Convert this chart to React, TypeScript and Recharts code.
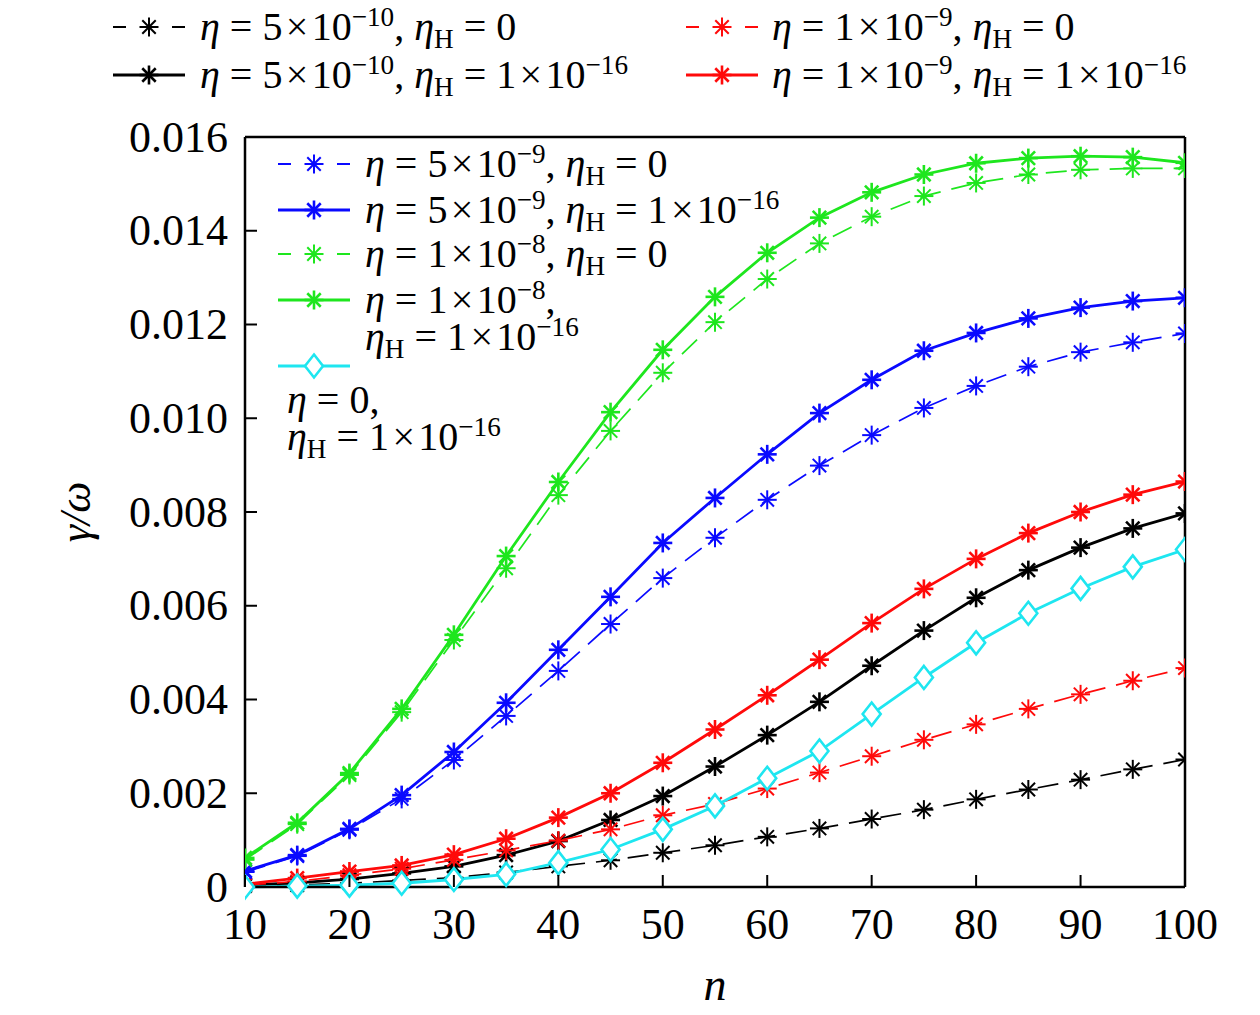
import React from "react";
import { Legend, Line, LineChart, ReferenceLine, XAxis, YAxis } from "recharts";

const W = 1260;
const H = 1015;
const FONT = '"Liberation Serif", "DejaVu Serif", serif';

// n values (x axis)
const nValues = [10, 15, 20, 25, 30, 35, 40, 45, 50, 55, 60, 65, 70, 75, 80, 85, 90, 95, 100];

// gamma/omega
const blackDashed = [0.00002, 0.00004, 0.00008, 0.00014, 0.0002, 0.00031, 0.00044, 0.00057, 0.00073, 0.00089, 0.00107, 0.00125, 0.00145, 0.00165, 0.00187, 0.00208, 0.00229, 0.00251, 0.00272];
const blackSolid = [0.00004, 0.00009, 0.00017, 0.00029, 0.00044, 0.00068, 0.00098, 0.00143, 0.00194, 0.00257, 0.00324, 0.00395, 0.00472, 0.00547, 0.00617, 0.00676, 0.00724, 0.00765, 0.00797];
const redDashed = [0.00004, 0.00012, 0.00025, 0.00039, 0.00058, 0.00078, 0.00099, 0.00123, 0.00153, 0.00177, 0.0021, 0.00244, 0.00279, 0.00314, 0.00347, 0.0038, 0.00411, 0.0044, 0.00467];
const redSolid = [0.00006, 0.00019, 0.00033, 0.00046, 0.00069, 0.00103, 0.00148, 0.002, 0.00265, 0.00336, 0.00409, 0.00485, 0.00563, 0.00636, 0.007, 0.00755, 0.008, 0.00837, 0.00865];
const blueDashed = [0.00032, 0.00066, 0.00122, 0.00188, 0.00271, 0.00365, 0.00461, 0.00561, 0.00659, 0.00745, 0.00826, 0.00899, 0.00964, 0.01022, 0.01069, 0.0111, 0.01141, 0.01162, 0.01181];
const blueSolid = [0.00034, 0.00068, 0.00124, 0.00196, 0.00288, 0.00393, 0.00506, 0.00619, 0.00734, 0.0083, 0.00923, 0.01011, 0.01082, 0.01144, 0.01182, 0.01213, 0.01236, 0.0125, 0.01257];
const greenDashed = [0.00058, 0.00134, 0.00239, 0.00373, 0.00527, 0.0068, 0.00836, 0.00973, 0.01097, 0.01205, 0.01297, 0.01373, 0.0143, 0.01474, 0.01502, 0.0152, 0.0153, 0.01533, 0.01533];
const greenSolid = [0.00062, 0.00137, 0.00243, 0.0038, 0.00538, 0.00706, 0.00864, 0.01013, 0.01146, 0.01259, 0.01353, 0.01428, 0.01482, 0.0152, 0.01544, 0.01555, 0.01559, 0.01557, 0.01545];
const cyanSolid = [0, 0.00002, 0.00004, 0.00008, 0.00016, 0.00027, 0.00052, 0.0008, 0.00123, 0.00173, 0.00232, 0.0029, 0.00369, 0.00447, 0.00521, 0.00584, 0.00637, 0.00683, 0.0072];

const xTicks = [10, 20, 30, 40, 50, 60, 70, 80, 90, 100];
const yTicks = [0, 0.002, 0.004, 0.006, 0.008, 0.01, 0.012, 0.014, 0.016];

// labels: ^{..} superscript, _X subscript
const lblBlackDashed = "η = 5\u200a×\u200a10^{−10}, η_H = 0";
const lblBlackSolid = "η = 5\u200a×\u200a10^{−10}, η_H = 1\u200a×\u200a10^{−16}";
const lblRedDashed = "η = 1\u200a×\u200a10^{−9}, η_H = 0";
const lblRedSolid = "η = 1\u200a×\u200a10^{−9}, η_H = 1\u200a×\u200a10^{−16}";
const lblBlueDashed = "η = 5\u200a×\u200a10^{−9}, η_H = 0";
const lblBlueSolid = "η = 5\u200a×\u200a10^{−9}, η_H = 1\u200a×\u200a10^{−16}";
const lblGreenDashed = "η = 1\u200a×\u200a10^{−8}, η_H = 0";
const lblGreenSolid = ["η = 1\u200a×\u200a10^{−8},", "η_H = 1\u200a×\u200a10^{−16}"];
const lblCyan = ["η = 0,", "η_H = 1\u200a×\u200a10^{−16}"];

const BLACK = "#000000";
const RED = "#ff0a0a";
const BLUE = "#0a0aff";
const GREEN = "#1ee61e";
const CYAN = "#1ee6f0";

type Series = { key: string; values: number[]; color: string; dashed: boolean; marker: "star" | "diamond" };

const series: Series[] = [
  { key: "bd", values: blackDashed, color: BLACK, dashed: true, marker: "star" },
  { key: "bs", values: blackSolid, color: BLACK, dashed: false, marker: "star" },
  { key: "rd", values: redDashed, color: RED, dashed: true, marker: "star" },
  { key: "rs", values: redSolid, color: RED, dashed: false, marker: "star" },
  { key: "ud", values: blueDashed, color: BLUE, dashed: true, marker: "star" },
  { key: "us", values: blueSolid, color: BLUE, dashed: false, marker: "star" },
  { key: "gd", values: greenDashed, color: GREEN, dashed: true, marker: "star" },
  { key: "gs", values: greenSolid, color: GREEN, dashed: false, marker: "star" },
  { key: "cs", values: cyanSolid, color: CYAN, dashed: false, marker: "diamond" },
];

const data = nValues.map((n, i) => {
  const row: Record<string, number> = { n };
  series.forEach((s) => {
    row[s.key] = s.values[i];
  });
  return row;
});

const byKey = (k: string) => series.find((s) => s.key === k)!;

function Marker({ cx, cy, s }: { cx: number; cy: number; s: Series }) {
  const sw = s.dashed ? 2 : 2.6;
  if (s.marker === "diamond") {
    return (
      <polygon
        points={`${cx},${cy - 11.5} ${cx + 9},${cy} ${cx},${cy + 11.5} ${cx - 9},${cy}`}
        fill="#fff"
        stroke={s.color}
        strokeWidth={sw}
      />
    );
  }
  const r = 9.5;
  const d = r * 0.7071;
  return (
    <g stroke={s.color} strokeWidth={sw}>
      <line x1={cx - r} y1={cy} x2={cx + r} y2={cy} />
      <line x1={cx} y1={cy - r} x2={cx} y2={cy + r} />
      <line x1={cx - d} y1={cy - d} x2={cx + d} y2={cy + d} />
      <line x1={cx - d} y1={cy + d} x2={cx + d} y2={cy - d} />
    </g>
  );
}

function parse(s: string) {
  const out: { kind: "plain" | "sup" | "sub"; text: string }[] = [];
  let buf = "";
  let i = 0;
  const flush = () => {
    if (buf) out.push({ kind: "plain", text: buf });
    buf = "";
  };
  while (i < s.length) {
    const c = s[i];
    if (c === "^" && s[i + 1] === "{") {
      flush();
      const end = s.indexOf("}", i);
      out.push({ kind: "sup", text: s.slice(i + 2, end) });
      i = end + 1;
    } else if (c === "_") {
      flush();
      out.push({ kind: "sub", text: s[i + 1] });
      i += 2;
    } else {
      buf += c;
      i += 1;
    }
  }
  flush();
  return out;
}

function MathText({ x, y, text, size }: { x: number; y: number; text: string; size: number }) {
  const segs = parse(text);
  let shift = 0;
  const spans: React.ReactNode[] = [];
  segs.forEach((sg, i) => {
    const target = sg.kind === "sup" ? -0.35 * size : sg.kind === "sub" ? 0.2 * size : 0;
    const dy = target - shift;
    shift = target;
    const fs = sg.kind === "plain" ? size : size * 0.68;
    const parts = sg.text.split(/(η)/).filter(Boolean);
    parts.forEach((p, j) => {
      spans.push(
        <tspan key={`${i}-${j}`} dy={j === 0 ? dy : 0} fontSize={fs} fontStyle={p === "η" ? "italic" : "normal"}>
          {p}
        </tspan>,
      );
    });
  });
  return (
    <text x={x} y={y} fontFamily={FONT} fill="#000" style={{ whiteSpace: "pre" }}>
      {spans}
    </text>
  );
}

function Sample({ x, y, s }: { x: number; y: number; s: Series }) {
  const len = 72;
  const sw = s.dashed ? 2 : 2.8;
  return (
    <g>
      {s.dashed ? (
        <>
          <line x1={x} y1={y} x2={x + 13} y2={y} stroke={s.color} strokeWidth={sw} />
          <line x1={x + len - 13} y1={y} x2={x + len} y2={y} stroke={s.color} strokeWidth={sw} />
        </>
      ) : (
        <line x1={x} y1={y} x2={x + len} y2={y} stroke={s.color} strokeWidth={sw} />
      )}
      <Marker cx={x + len / 2} cy={y} s={s} />
    </g>
  );
}

const LFS = 40;

function LegendContent() {
  const topRows = [
    { s: byKey("bd"), label: lblBlackDashed, sx: 113, tx: 200, y: 27 },
    { s: byKey("rd"), label: lblRedDashed, sx: 686, tx: 772, y: 27 },
    { s: byKey("bs"), label: lblBlackSolid, sx: 113, tx: 200, y: 75 },
    { s: byKey("rs"), label: lblRedSolid, sx: 686, tx: 772, y: 75 },
  ];
  const innerRows = [
    { s: byKey("ud"), label: lblBlueDashed, y: 164 },
    { s: byKey("us"), label: lblBlueSolid, y: 210 },
    { s: byKey("gd"), label: lblGreenDashed, y: 254 },
  ];
  const base = 13;
  return (
    <svg width={W} height={H} style={{ position: "absolute", left: 0, top: 0 }}>
      {topRows.map((r, i) => (
        <g key={`t${i}`}>
          <Sample x={r.sx} y={r.y} s={r.s} />
          <MathText x={r.tx} y={r.y + base} text={r.label} size={LFS} />
        </g>
      ))}
      {innerRows.map((r, i) => (
        <g key={`i${i}`}>
          <Sample x={278} y={r.y} s={r.s} />
          <MathText x={365} y={r.y + base} text={r.label} size={LFS} />
        </g>
      ))}
      <Sample x={278} y={300} s={byKey("gs")} />
      <MathText x={365} y={300 + base} text={lblGreenSolid[0]} size={LFS} />
      <MathText x={365} y={337 + base} text={lblGreenSolid[1]} size={LFS} />
      <Sample x={278} y={366} s={byKey("cs")} />
      <MathText x={287} y={400 + base} text={lblCyan[0]} size={LFS} />
      <MathText x={287} y={437 + base} text={lblCyan[1]} size={LFS} />
    </svg>
  );
}

const TFS = 44;
const Y_GAP = 17;
const X_GAP = 52;
const TICK_LEN = 12;

function YTick(props: any) {
  const { x, y, payload } = props;
  const v = payload.value as number;
  const axisX = x + Y_GAP;
  return (
    <g>
      <text x={x} y={y} textAnchor="end" dominantBaseline="central" fontFamily={FONT} fontSize={TFS} fill="#000">
        {v === 0 ? "0" : v.toFixed(3)}
      </text>
      {v > 0 && <line x1={axisX} x2={axisX + TICK_LEN} y1={y} y2={y} stroke="#000" strokeWidth={2} />}
    </g>
  );
}

function XTick(props: any) {
  const { x, y, payload } = props;
  const axisY = y - X_GAP;
  return (
    <g>
      <text x={x} y={y} textAnchor="middle" fontFamily={FONT} fontSize={TFS} fill="#000">
        {String(payload.value)}
      </text>
      <line x1={x} x2={x} y1={axisY} y2={axisY - TICK_LEN} stroke="#000" strokeWidth={2} />
    </g>
  );
}

export default function App() {
  return (
    <div style={{ position: "absolute", left: 0, top: 0, width: W, height: H, background: "#fff" }}>
      <LineChart width={W} height={H} data={data} margin={{ top: 137, right: 75, left: 60, bottom: 10 }}>
        <XAxis
          dataKey="n"
          type="number"
          domain={[10, 100]}
          ticks={xTicks}
          allowDataOverflow
          height={118}
          tickSize={0}
          tickMargin={X_GAP}
          tickLine={false}
          tick={<XTick />}
          axisLine={{ stroke: "#000", strokeWidth: 2.5 }}
          label={{
            content: (p: any) => {
              const vb = p.viewBox;
              return (
                <text x={vb.x + vb.width / 2} y={1000} textAnchor="middle" fontFamily={FONT} fontStyle="italic" fontSize={46} fill="#000">
                  n
                </text>
              );
            },
          }}
        />
        <YAxis
          type="number"
          domain={[0, 0.016]}
          ticks={yTicks}
          width={185}
          tickSize={0}
          tickMargin={Y_GAP}
          tickLine={false}
          tick={<YTick />}
          axisLine={{ stroke: "#000", strokeWidth: 2.5 }}
          label={{
            content: (p: any) => {
              const vb = p.viewBox;
              const cx = vb.x + 15;
              const cy = vb.y + vb.height / 2;
              return (
                <text x={cx} y={cy} textAnchor="middle" dominantBaseline="central" transform={`rotate(-90 ${cx} ${cy})`} fontFamily={FONT} fontStyle="italic" fontSize={44} fill="#000">
                  γ/ω
                </text>
              );
            },
          }}
        />
        <ReferenceLine x={100} stroke="#000" strokeWidth={2.5} />
        <ReferenceLine y={0.016} stroke="#000" strokeWidth={2.5} />
        {series.map((s) => (
          <Line
            key={s.key}
            dataKey={s.key}
            type="linear"
            stroke={s.color}
            strokeWidth={s.dashed ? 1.7 : 2.8}
            strokeDasharray={s.dashed ? "21 11" : undefined}
            isAnimationActive={false}
            activeDot={false}
            dot={(p: any) => (
              <g key={`${s.key}-${p.index}`}>
                {p.cx != null && p.cy != null ? <Marker cx={p.cx} cy={p.cy} s={s} /> : null}
              </g>
            )}
          />
        ))}
        <Legend
          layout="vertical"
          align="center"
          verticalAlign="middle"
          content={() => <LegendContent />}
          wrapperStyle={{ position: "absolute", left: 0, top: 0, width: W, height: H, pointerEvents: "none" }}
        />
      </LineChart>
    </div>
  );
}
